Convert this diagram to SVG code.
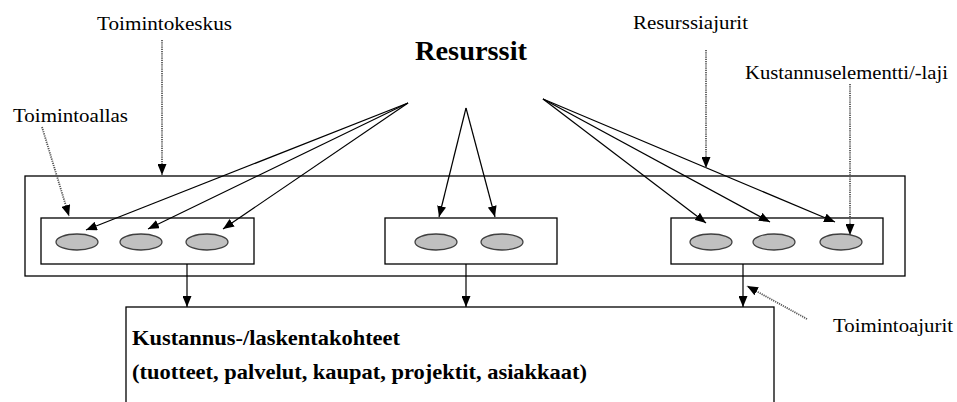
<svg xmlns="http://www.w3.org/2000/svg" width="957" height="402" viewBox="0 0 957 402">
  <style>
    .box { fill: #fff; stroke: #000; stroke-width: 1.3; }
    .pool { fill: #c0c0c0; stroke: #404040; stroke-width: 1.3; }
    .link { fill: none; stroke: #000; stroke-width: 1.2; marker-end: url(#arrow); }
    .lead { fill: none; stroke: #555; stroke-width: 1.8; stroke-dasharray: 1.2 1; marker-end: url(#arrow); }
    .lbl { font-size: 19px; fill: #000; }
    .bold { font-weight: bold; fill: #000; }
  </style>
  <defs>
    <marker id="arrow" markerUnits="userSpaceOnUse" markerWidth="11" markerHeight="9" refX="11" refY="4.5" orient="auto">
      <path d="M0,0 L11,4.5 L0,9 z" fill="#000"/>
    </marker>
  </defs>
  <rect width="957" height="402" fill="#fff"/>

  <!-- activity centre frame -->
  <g id="toimintokeskus-frame">
    <rect class="box" x="25" y="176" width="880" height="100"/>
  </g>

  <!-- activity pools with their cost elements -->
  <g id="pool-left">
    <rect class="box" x="41" y="218" width="213" height="46"/>
    <ellipse class="pool" cx="77" cy="242" rx="21" ry="8"/>
    <ellipse class="pool" cx="141" cy="242" rx="21" ry="8"/>
    <ellipse class="pool" cx="207" cy="242" rx="21" ry="8"/>
  </g>
  <g id="pool-middle">
    <rect class="box" x="385" y="218" width="172" height="46"/>
    <ellipse class="pool" cx="436" cy="242" rx="21" ry="8"/>
    <ellipse class="pool" cx="502" cy="242" rx="21" ry="8"/>
  </g>
  <g id="pool-right">
    <rect class="box" x="671" y="218" width="212" height="46"/>
    <ellipse class="pool" cx="711" cy="242" rx="21" ry="8"/>
    <ellipse class="pool" cx="774" cy="242" rx="21" ry="8"/>
    <ellipse class="pool" cx="841" cy="242" rx="21" ry="8"/>
  </g>

  <!-- all text in a Times-metric face -->
  <g font-family="Liberation Serif, Times New Roman, Times, serif">
    <!-- cost objects -->
    <g id="kustannuskohteet">
      <rect class="box" x="126" y="307" width="648" height="110"/>
      <text class="bold" x="132" y="345" font-size="21" textLength="268" lengthAdjust="spacingAndGlyphs">Kustannus-/laskentakohteet</text>
      <text class="bold" x="132" y="379" font-size="21" textLength="455" lengthAdjust="spacingAndGlyphs">(tuotteet, palvelut, kaupat, projektit, asiakkaat)</text>
    </g>

    <!-- resources -->
    <g id="resurssit">
      <text class="bold" x="415" y="60" font-size="27" textLength="112" lengthAdjust="spacingAndGlyphs">Resurssit</text>
    </g>

    <!-- labels -->
    <g id="labels">
      <text class="lbl" x="97" y="30" textLength="135" lengthAdjust="spacingAndGlyphs">Toimintokeskus</text>
      <text class="lbl" x="13" y="122" textLength="115" lengthAdjust="spacingAndGlyphs">Toimintoallas</text>
      <text class="lbl" x="633" y="29" textLength="115" lengthAdjust="spacingAndGlyphs">Resurssiajurit</text>
      <text class="lbl" x="745" y="79" textLength="203" lengthAdjust="spacingAndGlyphs">Kustannuselementti/-laji</text>
      <text class="lbl" x="833" y="332" textLength="120" lengthAdjust="spacingAndGlyphs">Toimintoajurit</text>
    </g>
  </g>

  <!-- connectors -->
  <g id="connectors">
    <!-- resource drivers -->
    <line class="link" x1="408" y1="103" x2="86" y2="230"/>
    <line class="link" x1="408" y1="103" x2="148" y2="229"/>
    <line class="link" x1="408" y1="103" x2="223" y2="229"/>
    <line class="link" x1="466" y1="108" x2="439" y2="217"/>
    <line class="link" x1="466" y1="108" x2="495" y2="217"/>
    <line class="link" x1="543" y1="99" x2="706" y2="223"/>
    <line class="link" x1="543" y1="99" x2="770" y2="222"/>
    <line class="link" x1="543" y1="99" x2="835" y2="222"/>
    <!-- activity drivers -->
    <line class="link" x1="187" y1="264" x2="187" y2="307"/>
    <line class="link" x1="466" y1="264" x2="466" y2="307"/>
    <line class="link" x1="743" y1="264" x2="743" y2="307"/>
    <!-- label leaders -->
    <line class="lead" x1="162" y1="40" x2="162" y2="175"/>
    <line class="lead" x1="42" y1="127" x2="69" y2="216"/>
    <line class="lead" x1="706" y1="50" x2="706" y2="168"/>
    <line class="lead" x1="850" y1="84" x2="850" y2="235"/>
    <line class="lead" x1="807" y1="319" x2="747" y2="286"/>
  </g>
</svg>
